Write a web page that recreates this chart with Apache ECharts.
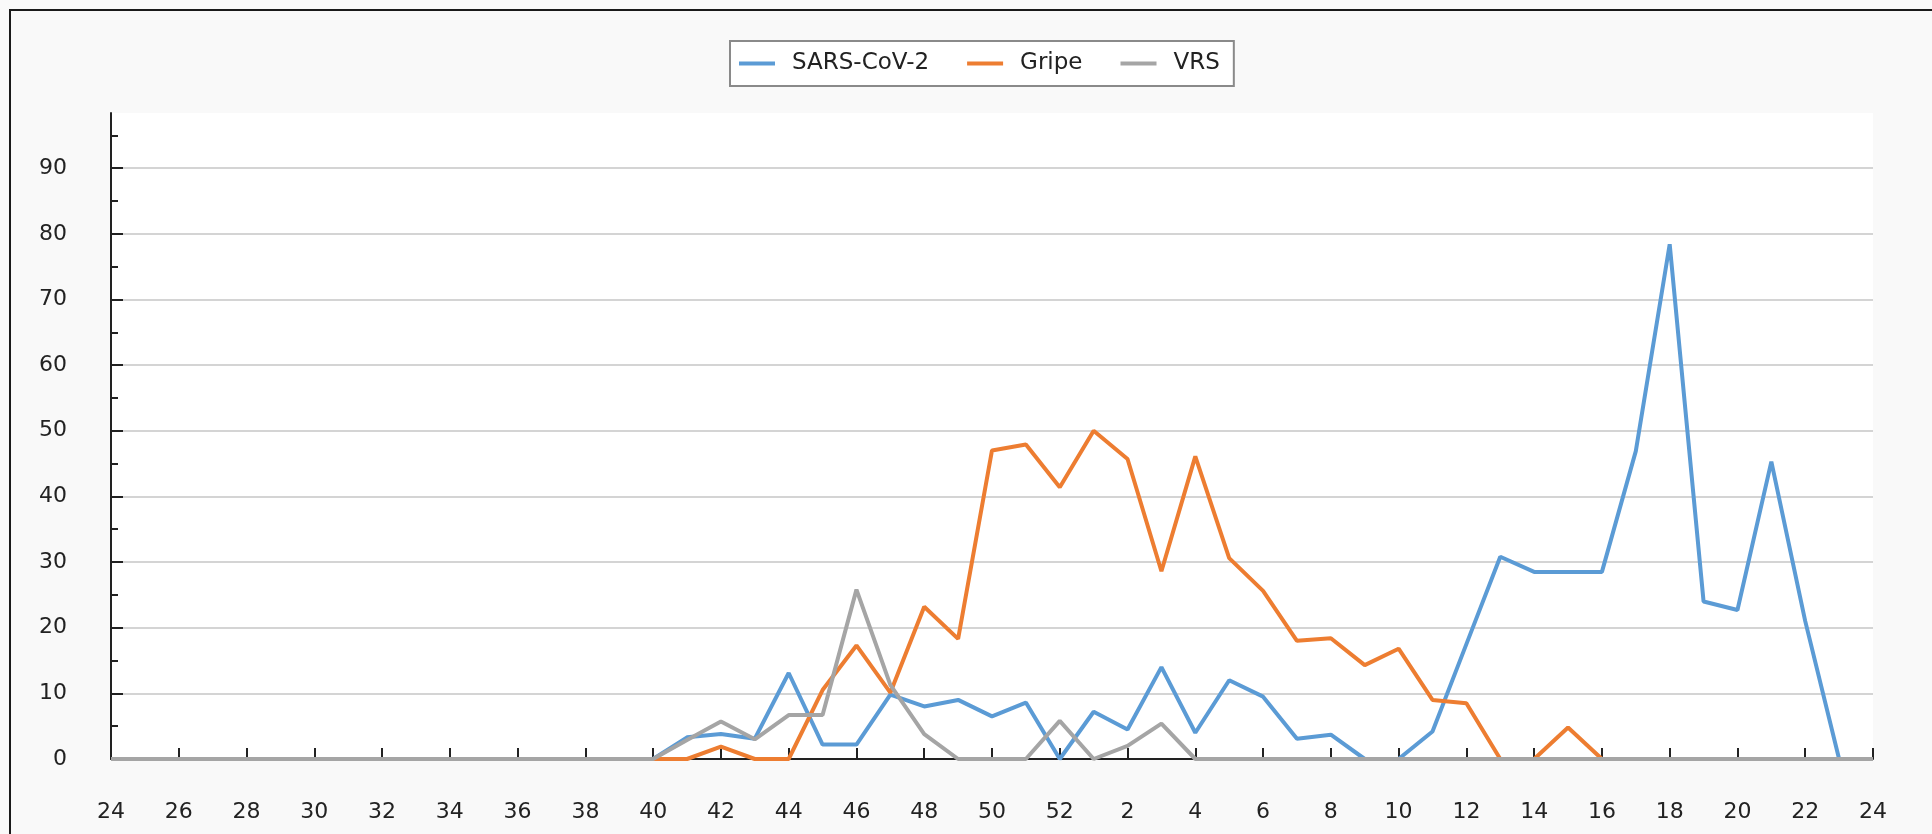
<!DOCTYPE html>
<html>
<head>
<meta charset="utf-8">
<script src="https://cdn.jsdelivr.net/npm/echarts@6/dist/echarts.min.js"></script>
<style>
  html, body { margin: 0; padding: 0; background: #f9f9f9; }
  #chartsDom { width: 1932px; height: 834px; }
</style>
</head>
<body>
<div id="chartsDom"></div>
<script>
// semanas epidemiológicas: 24 a 52, depois 1 a 24
const weeks = ['24', '25', '26', '27', '28', '29', '30', '31', '32', '33', '34', '35', '36', '37', '38', '39',
  '40', '41', '42', '43', '44', '45', '46', '47', '48', '49', '50', '51', '52',
  '1', '2', '3', '4', '5', '6', '7', '8', '9', '10', '11', '12', '13', '14', '15', '16',
  '17', '18', '19', '20', '21', '22', '23', '24'];

const sarsCov2 = [0, 0, 0, 0, 0, 0, 0, 0, 0, 0, 0, 0, 0, 0, 0, 0,
  0, 3.3, 3.8, 3.1, 13.1, 2.2, 2.2, 9.8, 8.0, 9.0, 6.5, 8.6, 0,
  7.2, 4.5, 14.0, 4.0, 12.0, 9.5, 3.1, 3.7, 0, 0, 4.2, 17.5, 30.8, 28.5, 28.5, 28.5,
  46.9, 78.4, 24.0, 22.7, 45.3, 21.0, 0, 0];

const gripe = [0, 0, 0, 0, 0, 0, 0, 0, 0, 0, 0, 0, 0, 0, 0, 0,
  0, 0, 1.9, 0, 0, 10.5, 17.3, 10.1, 23.2, 18.3, 47.0, 47.9, 41.4,
  50.0, 45.7, 28.6, 46.1, 30.6, 25.6, 18.0, 18.4, 14.3, 16.8, 9.0, 8.5, 0, 0, 4.8, 0,
  0, 0, 0, 0, 0, 0, 0, 0];

const vrs = [0, 0, 0, 0, 0, 0, 0, 0, 0, 0, 0, 0, 0, 0, 0, 0,
  0, 2.9, 5.7, 3.0, 6.7, 6.7, 25.8, 11.3, 3.8, 0, 0, 0, 5.8,
  0, 2.0, 5.4, 0, 0, 0, 0, 0, 0, 0, 0, 0, 0, 0, 0, 0,
  0, 0, 0, 0, 0, 0, 0, 0];

const yTicks = [0, 10, 20, 30, 40, 50, 60, 70, 80, 90];
const yMinorTicks = [5, 15, 25, 35, 45, 55, 65, 75, 85, 95];

const chartsDom = echarts.init(document.getElementById('chartsDom'));
const font = 'DejaVu Sans';
const axisColor = '#222';
const gridColors = ['#d4d4d4', '#d4d4d4', '#d4d4d4', '#d4d4d4', '#d4d4d4',
  '#d4d4d4', '#d4d4d4', '#d4d4d4', '#d4d4d4', '#d4d4d4', 'rgba(0,0,0,0)'];

let option = {
  backgroundColor: '#f9f9f9',
  animation: false,
  graphic: [
    {
      type: 'rect',
      shape: { x: 10, y: 10, width: 1960, height: 900 },
      style: { fill: 'none', stroke: '#1a1a1a', lineWidth: 2 }
    }
  ],
  legend: {
    left: 730,
    top: 41,
    padding: [11, 14, 11, 9],
    backgroundColor: '#fff',
    borderColor: '#8a8a8a',
    borderWidth: 2,
    borderRadius: 0,
    icon: 'rect',
    itemWidth: 36,
    itemHeight: 4,
    itemGap: 38,
    textStyle: { fontFamily: font, fontSize: 23, color: '#222', padding: [0, 0, 0, 12] },
    data: ['SARS-CoV-2', 'Gripe', 'VRS']
  },
  grid: {
    left: 111,
    right: 59,
    top: 113,
    bottom: 75,
    show: true,
    backgroundColor: '#fff',
    borderWidth: 0,
    outerBoundsMode: 'none'
  },
  xAxis: {
    type: 'category',
    data: weeks,
    boundaryGap: false,
    z: 3,
    axisLine: { lineStyle: { color: axisColor, width: 2 } },
    axisTick: { inside: true, length: 11, interval: 1, lineStyle: { color: axisColor, width: 2 } },
    axisLabel: { interval: 1, margin: 42, color: '#222', fontSize: 22, fontFamily: font },
    splitLine: { show: false }
  },
  yAxis: [
    {
      type: 'value',
      min: 0,
      max: 98.4,
      interval: 10,
      axisLine: { show: true, lineStyle: { color: axisColor, width: 2 } },
      axisTick: { show: true, inside: true, length: 12, customValues: yTicks, lineStyle: { color: axisColor, width: 2 } },
      axisLabel: { margin: 44, color: '#222', fontSize: 22, fontFamily: font, customValues: yTicks },
      splitLine: { show: true, lineStyle: { color: gridColors, width: 2 } }
    },
    {
      type: 'value',
      min: 0,
      max: 98.4,
      position: 'left',
      offset: 0,
      axisLine: { show: false },
      axisLabel: { show: false },
      splitLine: { show: false },
      axisTick: { show: true, inside: true, length: 7, customValues: yMinorTicks, lineStyle: { color: axisColor, width: 2 } }
    }
  ],
  series: [
    {
      name: 'SARS-CoV-2',
      type: 'line',
      symbol: 'none',
      clip: false,
      color: '#5b9bd5',
      lineStyle: { color: '#5b9bd5', width: 4 },
      data: sarsCov2
    },
    {
      name: 'Gripe',
      type: 'line',
      symbol: 'none',
      clip: false,
      color: '#ed7d31',
      lineStyle: { color: '#ed7d31', width: 4 },
      data: gripe
    },
    {
      name: 'VRS',
      type: 'line',
      symbol: 'none',
      clip: false,
      color: '#a5a5a5',
      lineStyle: { color: '#a5a5a5', width: 4 },
      data: vrs
    }
  ]
};
option && chartsDom.setOption(option);
</script>
</body>
</html>
